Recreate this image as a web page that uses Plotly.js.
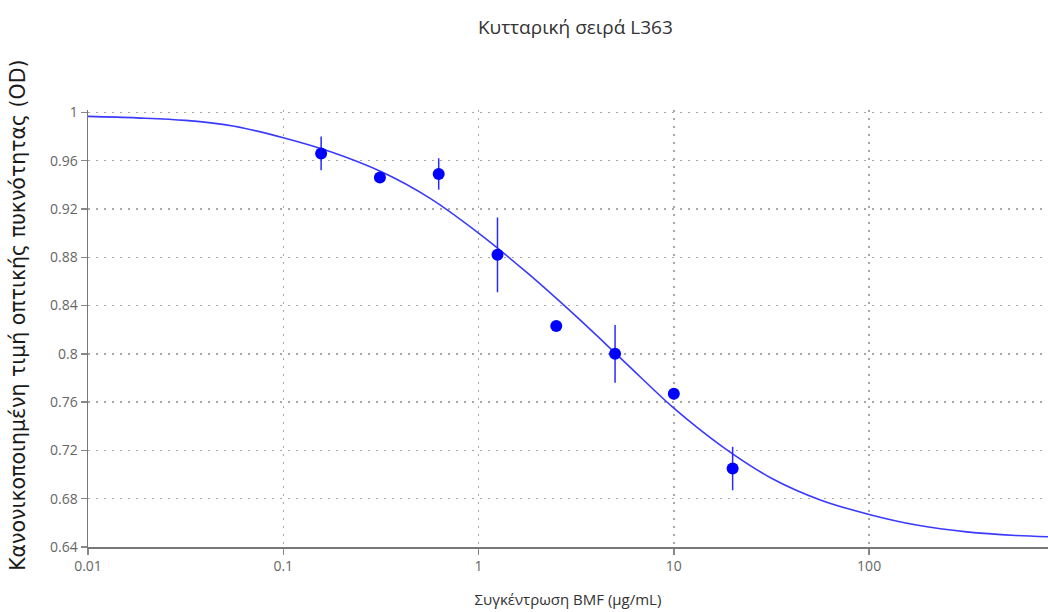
<!DOCTYPE html>
<html>
<head>
<meta charset="utf-8">
<script src="https://cdn.plot.ly/plotly-3.0.1.min.js"></script>
<style>html,body{margin:0;padding:0;background:#fff;}#chart{width:1048px;height:612px;}</style>
</head>
<body>
<div id="chart"></div>
<script>
// Measured data (concentration in μg/mL)
const concentrations = [0.15625, 0.3125, 0.625, 1.25, 2.5, 5, 10, 20];
const meanOD = [0.966, 0.946, 0.949, 0.882, 0.823, 0.800, 0.767, 0.705];
const errOD = [0.014, 0, 0.013, 0.031, 0, 0.024, 0, 0.018];

// Fitted curve, values every quarter decade
const curveX = [0.01, 0.01778, 0.03162, 0.05623, 0.1, 0.1778, 0.3162, 0.5623, 1, 1.778, 3.162, 5.623, 10, 17.78, 31.62, 56.23, 100, 177.8, 316.2, 562.3, 824];
const curveY = [0.9967, 0.9955, 0.9934, 0.9885, 0.979, 0.967, 0.951, 0.929, 0.900, 0.867, 0.831, 0.793, 0.755, 0.723, 0.697, 0.679, 0.667, 0.658, 0.6525, 0.6495, 0.6485];

const yTicks = [0.64, 0.68, 0.72, 0.76, 0.8, 0.84, 0.88, 0.92, 0.96, 1];

const traces = [
  {
    x: curveX, y: curveY, type: 'scatter', mode: 'lines',
    line: {color: '#3a3aff', width: 1.6, shape: 'spline', smoothing: 1},
    hoverinfo: 'skip', showlegend: false
  },
  {
    x: concentrations, y: meanOD, type: 'scatter', mode: 'markers',
    marker: {color: '#0000ff', size: 12},
    error_y: {type: 'data', array: errOD, visible: true, color: '#2a2aff', thickness: 1.5, width: 0},
    showlegend: false
  }
];

const layout = {
  width: 1048, height: 612,
  margin: {l: 88, r: 0, t: 110, b: 65},
  paper_bgcolor: '#fff', plot_bgcolor: '#fff',
  font: {family: 'Open Sans, sans-serif', color: '#444'},
  title: {text: 'Κυτταρική σειρά L363', x: 0.549, xanchor: 'center', y: 0.955, yanchor: 'middle',
          font: {size: 19, color: '#333', family: 'Open Sans, sans-serif'}},
  xaxis: {
    type: 'log', range: [-2, 2.916], dtick: 1,
    showgrid: true, gridcolor: '#a8a8a8', griddash: '2px,6px', gridwidth: 1.5,
    showline: true, linecolor: '#777', linewidth: 1.5,
    ticks: 'outside', ticklen: 6, tickcolor: '#888', tickwidth: 1.5,
    tickfont: {size: 14, color: '#666'},
    zeroline: false,
    title: {text: 'Συγκέντρωση BMF (μg/mL)', font: {size: 15, color: '#333'}, standoff: 20}
  },
  yaxis: {
    range: [0.64, 1.002], tickvals: yTicks, ticktext: yTicks.map(v => String(v)),
    showgrid: true, gridcolor: '#a8a8a8', griddash: '2px,6px', gridwidth: 1.5,
    showline: true, linecolor: '#777', linewidth: 1.5,
    ticks: 'outside', ticklen: 6, tickcolor: '#888', tickwidth: 1.5,
    tickfont: {size: 14, color: '#666'},
    zeroline: false
  },
  annotations: [{
    text: 'Κανονικοποιημένη τιμή οπτικής πυκνότητας (OD)',
    xref: 'paper', yref: 'paper', x: -0.073, y: 0.531,
    xanchor: 'center', yanchor: 'middle', textangle: -90, showarrow: false,
    font: {size: 20.5, color: '#1a1a1a', family: 'DejaVu Sans, sans-serif'}
  }]
};

Plotly.newPlot('chart', traces, layout, {displayModeBar: false, staticPlot: true});
</script>
</body>
</html>
